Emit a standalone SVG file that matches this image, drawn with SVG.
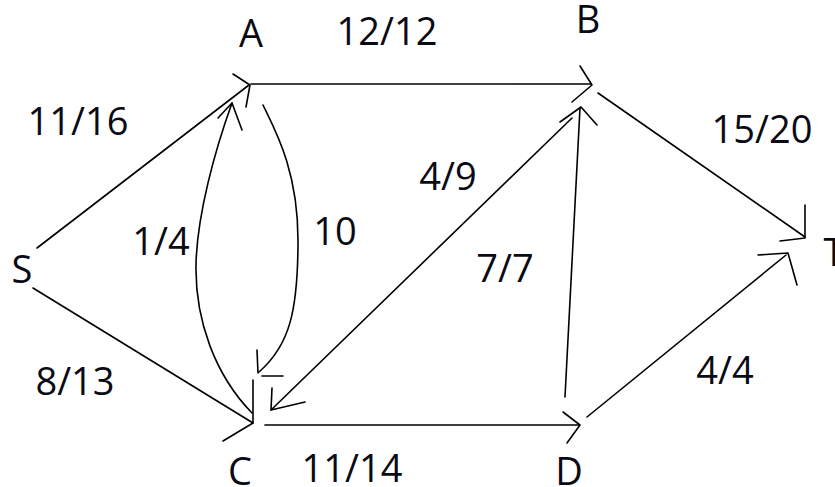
<svg xmlns="http://www.w3.org/2000/svg" width="835" height="487" viewBox="0 0 835 487">
<style>
.e{fill:none;stroke:#000;stroke-width:1.6;stroke-linecap:round;stroke-linejoin:round}
.t{font-family:"Open Sans","Liberation Sans",sans-serif;font-size:38px;fill:#0a0a14;text-anchor:middle}
</style>
<rect width="835" height="487" fill="#fff"/>
<g id="connectors">
  <g id="S-A"><path class="e" d="M37,248 L249,85"/><path class="e" d="M233,74 L250,85 L246,107"/></g>
  <g id="S-C"><path class="e" d="M33,288 L253,423"/><path class="e" d="M253,380 L253,423 L223,441"/></g>
  <g id="A-B"><path class="e" d="M251,84 L591,84"/><path class="e" d="M580,66 L592,85 L572,102"/></g>
  <g id="B-T"><path class="e" d="M598,93 L805,237"/><path class="e" d="M805,205 L805,238 L780,241"/></g>
  <g id="C-A"><path class="e" d="M252,413 C215,375 195,320 196,265 C197,215 215,150 232,103"/><path class="e" d="M218,118 L232,103 L242,130"/></g>
  <g id="A-C"><path class="e" d="M263,105 C275,130 298,170 298,240 C298,310 290,345 259,372"/><path class="e" d="M257,350 L258,373"/><path class="e" d="M262,376 L283,376"/></g>
  <g id="B-C"><path class="e" d="M572,118 L271,410"/><path class="e" d="M272,388 L271,410 L305,402"/></g>
  <g id="D-B"><path class="e" d="M565,397 L580,108"/><path class="e" d="M560,122 L581,107 L597,125"/></g>
  <g id="C-D"><path class="e" d="M265,425 L579,425"/><path class="e" d="M563,412 L580,425 L567,443"/></g>
  <g id="D-T"><path class="e" d="M587,417 L786,255"/><path class="e" d="M758,255 L788,253 L797,285"/></g>
  <g id="labels">
    <text class="t" x="387" y="45">12/12</text>
    <text class="t" x="78" y="135">11/16</text>
    <text class="t" x="762" y="143">15/20</text>
    <text class="t" x="448" y="190">4/9</text>
    <text class="t" x="161" y="255">1/4</text>
    <text class="t" x="335" y="245">10</text>
    <text class="t" x="505" y="282">7/7</text>
    <text class="t" x="75" y="395">8/13</text>
    <text class="t" x="725" y="384">4/4</text>
    <text class="t" x="352" y="482">11/14</text>
  </g>
</g>
<g id="node-S"><text class="t" x="22" y="283">S</text></g>
<g id="node-A"><text class="t" x="251" y="47">A</text></g>
<g id="node-B"><text class="t" x="588" y="33">B</text></g>
<g id="node-C"><text class="t" x="240" y="485">C</text></g>
<g id="node-D"><text class="t" x="569" y="485">D</text></g>
<g id="node-T"><text class="t" x="834" y="266">T</text></g>
</svg>
